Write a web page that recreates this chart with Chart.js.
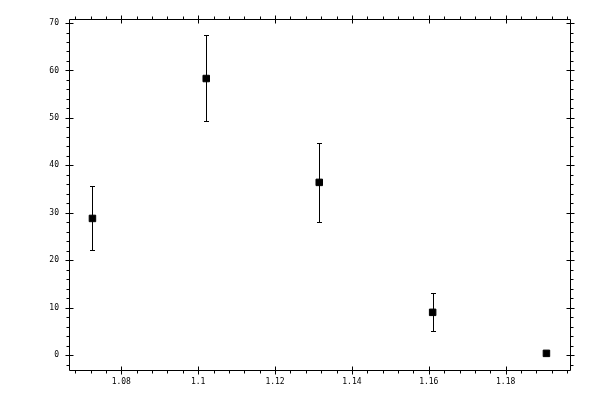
<!DOCTYPE html>
<html>
<head>
<meta charset="utf-8">
<script src="https://cdn.jsdelivr.net/npm/chart.js@4/dist/chart.umd.min.js"></script>
<style>
  html, body { margin: 0; padding: 0; background: #fff; }
  #wrap { width: 600px; height: 400px; }
</style>
</head>
<body>
<div id="wrap"><canvas id="c" width="600" height="400"></canvas></div>
<script>
// ---- data ----
const xValues = [1.0725, 1.1021, 1.1315, 1.161, 1.1906];
const yValues = [28.8, 58.3, 36.4, 9.0, 0.35];
const errHigh = [35.6, 67.5, 44.8, 13.0, null];
const errLow  = [22.1, 49.3, 28.0, 5.0, null];

const xTickValues = [1.08, 1.10, 1.12, 1.14, 1.16, 1.18];
const xTickLabels = ['1.08', '1.1', '1.12', '1.14', '1.16', '1.18'];
const yTickValues = [0, 10, 20, 30, 40, 50, 60, 70];
const yTickLabels = ['0', '10', '20', '30', '40', '50', '60', '70'];

const xMinorStep = 0.004;
const yMinorStep = 2;

const points = xValues.map((x, i) => ({ x: x, y: yValues[i] }));

const frameAndBars = {
  id: 'frameAndBars',
  beforeDatasetsDraw(chart) {
    const ctx = chart.ctx;
    const xs = chart.scales.x, ys = chart.scales.y;
    ctx.save();
    ctx.strokeStyle = '#000';
    ctx.lineWidth = 1;
    // error bars
    for (let i = 0; i < xValues.length; i++) {
      if (errHigh[i] == null || errLow[i] == null) continue;
      const px = Math.round(xs.getPixelForValue(xValues[i])) + 0.5;
      const pt = Math.round(ys.getPixelForValue(errHigh[i])) + 0.5;
      const pb = Math.round(ys.getPixelForValue(errLow[i])) + 0.5;
      ctx.beginPath();
      ctx.moveTo(px, pt); ctx.lineTo(px, pb);
      ctx.moveTo(px - 2.5, pt); ctx.lineTo(px + 2.5, pt);
      ctx.moveTo(px - 2.5, pb); ctx.lineTo(px + 2.5, pb);
      ctx.stroke();
    }
    ctx.restore();
  },
  afterDraw(chart) {
    const ctx = chart.ctx;
    const a = chart.chartArea;
    const xs = chart.scales.x, ys = chart.scales.y;
    const L = Math.round(a.left) + 0.5, R = Math.round(a.right) + 0.5;
    const T = Math.round(a.top) + 0.5, B = Math.round(a.bottom) - 0.5;
    ctx.save();
    ctx.strokeStyle = '#000';
    ctx.lineWidth = 1;
    ctx.beginPath();
    ctx.rect(L, T, R - L, B - T);
    ctx.stroke();
    ctx.beginPath();
    // x minor ticks (outside, top and bottom)
    for (let v = Math.ceil(xs.min / xMinorStep) * xMinorStep; v <= xs.max; v += xMinorStep) {
      const p = Math.round(xs.getPixelForValue(v)) + 0.5;
      ctx.moveTo(p, B); ctx.lineTo(p, B + 3);
      ctx.moveTo(p, T); ctx.lineTo(p, T - 3);
    }
    // x major ticks
    xTickValues.forEach(v => {
      const p = Math.round(xs.getPixelForValue(v)) + 0.5;
      ctx.moveTo(p, B - 4); ctx.lineTo(p, B + 4);
      ctx.moveTo(p, T - 4); ctx.lineTo(p, T + 4);
    });
    // y minor ticks
    for (let v = Math.ceil(ys.min / yMinorStep) * yMinorStep; v <= ys.max; v += yMinorStep) {
      const p = Math.round(ys.getPixelForValue(v)) + 0.5;
      ctx.moveTo(L, p); ctx.lineTo(L - 3, p);
      ctx.moveTo(R, p); ctx.lineTo(R + 3, p);
    }
    // y major ticks
    yTickValues.forEach(v => {
      const p = Math.round(ys.getPixelForValue(v)) + 0.5;
      ctx.moveTo(L - 4, p); ctx.lineTo(L + 4, p);
      ctx.moveTo(R - 4, p); ctx.lineTo(R + 4, p);
    });
    ctx.stroke();
    ctx.restore();
  }
};

const tickFont = { family: '"DejaVu Sans Mono", monospace', size: 8 };

new Chart(document.getElementById('c'), {
  type: 'scatter',
  data: {
    datasets: [{
      data: points,
      pointStyle: 'rect',
      pointRadius: 4.6,
      pointHoverRadius: 4.6,
      backgroundColor: '#000',
      borderColor: '#000',
      borderWidth: 1,
      showLine: false
    }]
  },
  options: {
    responsive: false,
    animation: false,
    events: [],
    layout: { padding: { left: 0, top: 19, right: 30, bottom: 0 } },
    plugins: { legend: { display: false }, tooltip: { enabled: false } },
    scales: {
      x: {
        type: 'linear',
        min: 1.0664,
        max: 1.19673,
        afterBuildTicks: s => { s.ticks = xTickValues.map(v => ({ value: v })); },
        afterFit: s => { s.height = 29; },
        ticks: {
          color: '#000',
          font: tickFont,
          padding: 6,
          maxRotation: 0,
          autoSkip: false,
          callback: (v, i) => xTickLabels[i]
        },
        grid: { display: true, drawOnChartArea: false, drawTicks: false },
        border: { display: false }
      },
      y: {
        type: 'linear',
        min: -3.37,
        max: 70.85,
        afterBuildTicks: s => { s.ticks = yTickValues.map(v => ({ value: v })); },
        afterFit: s => { s.width = 69; },
        ticks: {
          color: '#000',
          font: tickFont,
          padding: 10,
          autoSkip: false,
          callback: (v, i) => yTickLabels[i]
        },
        grid: { display: true, drawOnChartArea: false, drawTicks: false },
        border: { display: false }
      }
    }
  },
  plugins: [frameAndBars]
});
</script>
</body>
</html>
